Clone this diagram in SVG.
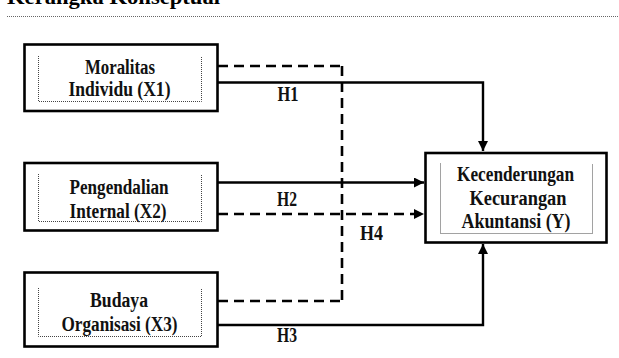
<svg xmlns="http://www.w3.org/2000/svg" width="619" height="358" viewBox="0 0 619 358" font-family="'Liberation Serif','Times New Roman',serif" font-weight="bold">
<defs>
<marker id="ah" viewBox="0 0 10 10" refX="10" refY="5" markerWidth="10" markerHeight="10" markerUnits="userSpaceOnUse" orient="auto">
<path d="M0,0 L10,5 L0,10 z" fill="#000"/>
</marker>
<style>
.box{fill:#fff;stroke:#000;stroke-width:2.6}
.inner{fill:none;stroke:#444;stroke-width:1;stroke-dasharray:1 1}
.t{font-size:20px;fill:#111;text-anchor:middle}
.solid{fill:none;stroke:#000;stroke-width:2.4}
.dash{fill:none;stroke:#000;stroke-width:2.6;stroke-dasharray:10 6}
</style>
</defs>
<rect width="619" height="358" fill="#fff"/>
<text x="7" y="4" font-size="21" textLength="213" lengthAdjust="spacingAndGlyphs">Kerangka Konseptual</text>
<line x1="7" y1="16.5" x2="619" y2="16.5" stroke="#666" stroke-width="1" stroke-dasharray="1 1"/>

<g id="connectors">
<path class="dash" d="M218,66 H342"/>
<path class="dash" d="M342,66 V301"/>
<path class="dash" d="M218,301 H342"/>
<path class="solid" d="M218,82.5 H483 V151" marker-end="url(#ah)"/>
<path class="solid" d="M218,182.5 H424" marker-end="url(#ah)"/>
<path class="dash" d="M218,214 H424" marker-end="url(#ah)"/>
<path class="solid" d="M218,325 H483 V244" marker-end="url(#ah)"/>
<text class="t" x="288" y="101" textLength="21" lengthAdjust="spacingAndGlyphs">H1</text>
<text class="t" x="287" y="205.5" textLength="20" lengthAdjust="spacingAndGlyphs">H2</text>
<text class="t" x="287" y="341.5" textLength="20" lengthAdjust="spacingAndGlyphs">H3</text>
<text class="t" x="371.5" y="240" textLength="23" lengthAdjust="spacingAndGlyphs">H4</text>
</g>

<g id="x1">
<rect class="box" x="24.5" y="44.5" width="193" height="66.5"/>
<path class="inner" d="M38.5,56 V101.5 H201.5 V56"/>
<text class="t" x="120" y="73.5" textLength="70" lengthAdjust="spacingAndGlyphs">Moralitas</text>
<text class="t" x="119.5" y="96" textLength="102" lengthAdjust="spacingAndGlyphs">Individu (X1)</text>
</g>

<g id="x2">
<rect class="box" x="24.5" y="163" width="193" height="67.5"/>
<path class="inner" d="M38.5,174 V221.5 H201.5 V174"/>
<text class="t" x="119" y="193.5" textLength="99" lengthAdjust="spacingAndGlyphs">Pengendalian</text>
<text class="t" x="118" y="217.5" textLength="97" lengthAdjust="spacingAndGlyphs">Internal (X2)</text>
</g>

<g id="x3">
<rect class="box" x="24.5" y="272.5" width="193" height="74"/>
<path class="inner" d="M38.5,288 V336.5 H201.5 V288"/>
<text class="t" x="119" y="307" textLength="58" lengthAdjust="spacingAndGlyphs">Budaya</text>
<text class="t" x="119.5" y="331" textLength="116" lengthAdjust="spacingAndGlyphs">Organisasi (X3)</text>
</g>

<g id="y">
<rect class="box" x="425.5" y="153" width="181" height="89.5"/>
<path class="inner" d="M440.5,163.5 V233.5 H592.5 V163.5"/>
<text class="t" x="515.5" y="181" textLength="117" lengthAdjust="spacingAndGlyphs">Kecenderungan</text>
<text class="t" x="518" y="204.5" textLength="97" lengthAdjust="spacingAndGlyphs">Kecurangan</text>
<text class="t" x="516" y="228" textLength="109" lengthAdjust="spacingAndGlyphs">Akuntansi (Y)</text>
</g>
</svg>
